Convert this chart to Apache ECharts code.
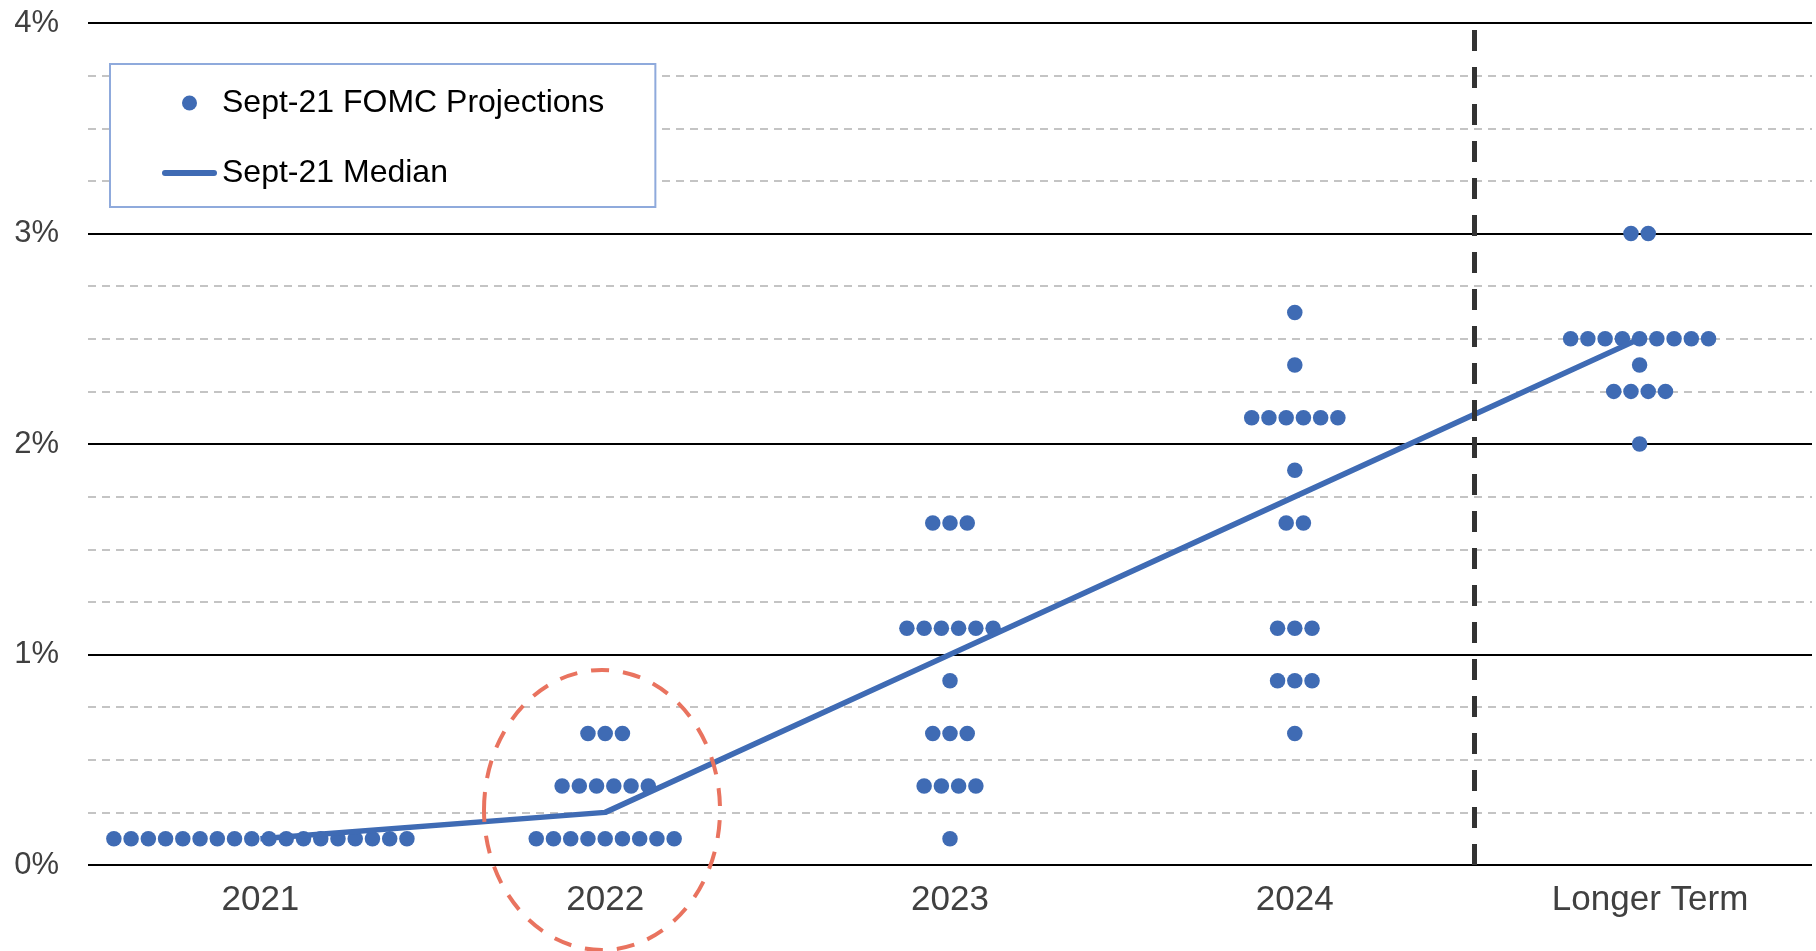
<!DOCTYPE html>
<html>
<head>
<meta charset="utf-8">
<script src="https://cdn.jsdelivr.net/npm/echarts@6/dist/echarts.min.js"></script>
<style>
  html, body { margin: 0; padding: 0; background: #ffffff; }
  #chart { width: 1816px; height: 951px; }
</style>
</head>
<body>
<div id="chart"></div>
<script>
// ---- Data ----
const categories = ['2021', '2022', '2023', '2024', 'Longer Term'];
const yTickLabels = ['0%', '1%', '2%', '3%', '4%'];

const dots2021 = [0.125, 0.125, 0.125, 0.125, 0.125, 0.125, 0.125, 0.125, 0.125,
                  0.125, 0.125, 0.125, 0.125, 0.125, 0.125, 0.125, 0.125, 0.125];
const dots2022 = [0.125, 0.125, 0.125, 0.125, 0.125, 0.125, 0.125, 0.125, 0.125,
                  0.375, 0.375, 0.375, 0.375, 0.375, 0.375,
                  0.625, 0.625, 0.625];
const dots2023 = [0.125,
                  0.375, 0.375, 0.375, 0.375,
                  0.625, 0.625, 0.625,
                  0.875,
                  1.125, 1.125, 1.125, 1.125, 1.125, 1.125,
                  1.625, 1.625, 1.625];
const dots2024 = [0.625,
                  0.875, 0.875, 0.875,
                  1.125, 1.125, 1.125,
                  1.625, 1.625,
                  1.875,
                  2.125, 2.125, 2.125, 2.125, 2.125, 2.125,
                  2.375,
                  2.625];
const dotsLonger = [2.0,
                    2.25, 2.25, 2.25, 2.25,
                    2.375,
                    2.5, 2.5, 2.5, 2.5, 2.5, 2.5, 2.5, 2.5, 2.5,
                    3.0, 3.0];
const medianValues = [0.125, 0.25, 1.0, 1.75, 2.5];

const dotSets = [dots2021, dots2022, dots2023, dots2024, dotsLonger];

// ---- Build scatter points: dots of equal value spread side by side around the category centre ----
const DOT_STEP = 0.05; // in category units
const scatterData = [];
dotSets.forEach(function (vals, ci) {
  const counts = {};
  vals.forEach(function (v) { counts[v] = (counts[v] || 0) + 1; });
  Object.keys(counts).forEach(function (k) {
    const n = counts[k];
    for (let i = 0; i < n; i++) {
      scatterData.push([ci + 0.5 + (i - (n - 1) / 2) * DOT_STEP, parseFloat(k)]);
    }
  });
});

const FONT = "'Liberation Sans', Arial, sans-serif";
const BLUE = '#3F6BB4';

const chart = echarts.init(document.getElementById('chart'), null, { renderer: 'canvas' });

chart.setOption({
  backgroundColor: '#ffffff',
  animation: false,
  grid: { left: 88, right: 4, top: 23, bottom: 86, containLabel: false },
  legend: {
    orient: 'vertical',
    left: 110,
    top: 64,
    padding: [23, 51, 18, 52],
    itemGap: 38,
    itemWidth: 55,
    itemHeight: 15,
    borderColor: '#8FAADC',
    borderWidth: 2,
    backgroundColor: '#ffffff',
    textStyle: { fontFamily: FONT, fontSize: 32, color: '#000000' },
    data: [
      { name: 'Sept-21 FOMC Projections' },
      { name: 'Sept-21 Median', icon: 'path://M3,0 L52,0 A3,3 0 0 1 52,6 L3,6 A3,3 0 0 1 3,0 Z' }
    ]
  },
  xAxis: [
    {
      type: 'category',
      data: categories,
      boundaryGap: true,
      axisLine: { show: false },
      axisTick: { show: false },
      splitLine: { show: false },
      axisLabel: {
        fontFamily: FONT, fontSize: 35, color: '#404040', margin: 18,
        formatter: function (v) { return v === 'Longer Term' ? '{lt|' + v + '}' : v; },
        rich: { lt: { fontFamily: FONT, fontSize: 35, color: '#404040', padding: [0, 0, 0, 21] } }
      }
    },
    {
      type: 'value',
      min: 0,
      max: 5,
      show: false
    }
  ],
  yAxis: [
    {
      type: 'value',
      min: 0,
      max: 4,
      interval: 0.25,
      axisLine: { show: false },
      axisTick: { show: false },
      axisLabel: { show: false },
      splitLine: { show: true, lineStyle: { color: '#C4C4C4', width: 2, type: [8, 6] } },
      z: 0
    },
    {
      type: 'value',
      min: 0,
      max: 4,
      interval: 1,
      position: 'left',
      axisLine: { show: false },
      axisTick: { show: false },
      axisLabel: {
        fontFamily: FONT, fontSize: 31, color: '#404040', margin: 29,
        formatter: function (v) { return yTickLabels[Math.round(v)]; }
      },
      splitLine: { show: true, lineStyle: { color: '#000000', width: 2, type: 'solid' } },
      z: 2
    }
  ],
  series: [
    {
      name: 'Sept-21 FOMC Projections',
      type: 'scatter',
      xAxisIndex: 1,
      yAxisIndex: 0,
      symbol: 'circle',
      symbolSize: 15.5,
      itemStyle: { color: BLUE, opacity: 1 },
      data: scatterData,
      z: 3,
      markLine: {
        silent: true,
        symbol: ['none', 'none'],
        label: { show: false },
        lineStyle: { color: '#333333', width: 5, type: [21, 16] },
        data: [{ xAxis: 4.02 }]
      }
    },
    {
      name: 'Sept-21 Median',
      type: 'line',
      xAxisIndex: 0,
      yAxisIndex: 0,
      symbol: 'none',
      showSymbol: false,
      lineStyle: { color: BLUE, width: 5.5 },
      itemStyle: { color: BLUE },
      data: medianValues,
      z: 4
    }
  ],
  graphic: [
    {
      type: 'ellipse',
      shape: { cx: 602, cy: 810, rx: 118, ry: 140 },
      style: { fill: null, stroke: '#E9735F', lineWidth: 4, lineDash: [18, 14] },
      z: 10,
      silent: true
    }
  ]
});
</script>
</body>
</html>
